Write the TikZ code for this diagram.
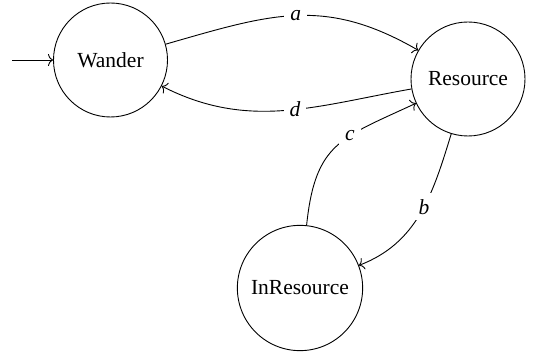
\documentclass[tikz,border=0pt]{standalone}
\usepackage{fontspec}
\setmainfont{Liberation Serif}
\usetikzlibrary{automata,positioning,arrows.meta}

\begin{document}
\begin{tikzpicture}[->,>={To[length=5pt,width=12pt]},x=1pt,y=1pt,line width=0.9pt,
  font=\fontsize{21.5}{26}\selectfont,
  every state/.style={minimum size=114pt,inner sep=11pt},
  lbl/.style={fill=white,inner sep=6pt}]

\useasboundingbox (0,0) rectangle (535,358);

\node[state,initial,initial text={},initial distance=41pt] (wander) at (110.5,298) {Wander};
\node[state,on grid,below right=19pt and 357.5pt of wander] (res) {Resource};
\node[state,on grid,below left=209pt and 168pt of res] (inres) {InResource};

\path (wander) edge [out=16,in=150,looseness=1.1] node[lbl]{\textit{a}} (res);
\path (res) edge [out=190,in=-27] node[lbl,pos=.45]{\textit{d}} (wander);
\path (res) edge [out=-107,in=21] node[lbl,pos=.45]{\textit{b}} (inres);
\path (inres) edge [out=84,in=205,looseness=1.3] node[lbl,pos=.62]{\textit{c}} (res);

\end{tikzpicture}
\end{document}
